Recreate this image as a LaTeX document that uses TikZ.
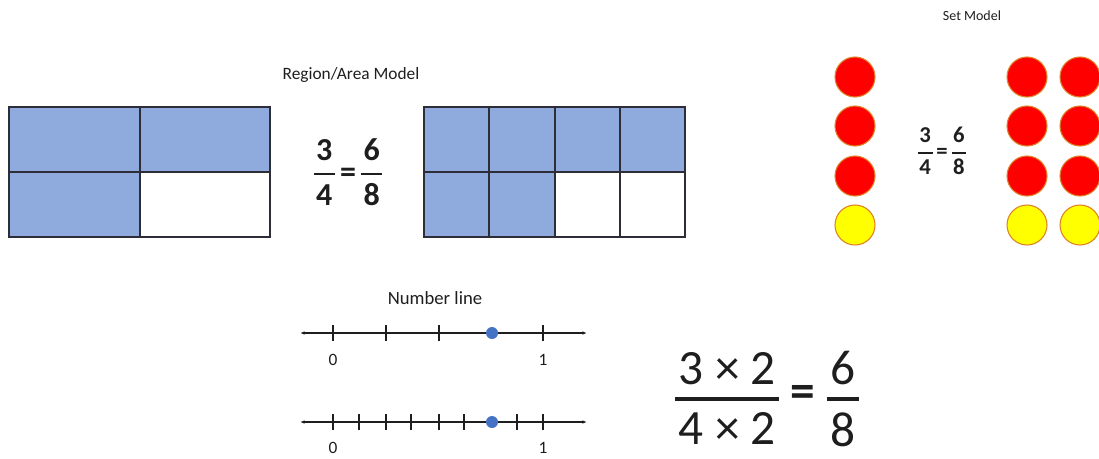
\documentclass[tikz,border=0pt]{standalone}
\usepackage{amsmath}
\usepackage{fontspec}
\setmainfont{Carlito}
\usetikzlibrary{arrows.meta,positioning}
\definecolor{cellblue}{RGB}{143,170,220}
\definecolor{cellline}{RGB}{45,45,55}
\definecolor{dotblue}{RGB}{68,114,196}
\definecolor{chipred}{RGB}{255,0,0}
\definecolor{chipyel}{RGB}{255,255,0}
\definecolor{rimc}{RGB}{222,130,40}
\definecolor{inkc}{RGB}{30,30,30}
\newcommand{\fr}[3][1.2pt]{\genfrac{}{}{#1}{0}{\text{\kern.07em#2\kern.07em}}{\text{\kern.07em#3\kern.07em}}}
\newcommand{\eqs}[1]{\text{\kern#1\bfseries=\kern#1}}
\tikzset{title/.style={font=\fontsize{13}{15}\selectfont,text=inkc},grid/.style={draw=cellline,line width=1pt},chip/.style={circle,draw=rimc,line width=0.8pt,minimum size=30pt,inner sep=0pt},numln/.style={{Latex[length=3.5pt]}-{Latex[length=3.5pt]},line width=0.9pt,draw=inkc},tick/.style={line width=0.9pt,draw=inkc},lab/.style={font=\fontsize{13}{15}\selectfont,text=inkc},ptmark/.style={circle,fill=dotblue,minimum size=9pt,inner sep=0pt}}

\begin{document}
\begin{tikzpicture}[x=0.75pt,y=-0.75pt]
\useasboundingbox (0,0) rectangle (1099,458);
% region / area model
\node[title] (area) at (351,75) {Region/Area Model};
\fill[cellblue] (9,107) rectangle (270,172);\fill[cellblue] (9,172) rectangle (140,237);
\draw[grid] (9,107) rectangle (270,237);\draw[grid] (140,107)--(140,237);\draw[grid] (9,172)--(270,172);
\node[font=\fontsize{24}{28}\selectfont\bfseries,text=inkc] (eqa) at (348,172) {$\fr[1.5pt]{3}{4}\eqs{.12em}\fr[1.5pt]{6}{8}$};
\fill[cellblue] (424,107) rectangle (685,172);\fill[cellblue] (424,172) rectangle (555,237);
\draw[grid] (424,107) rectangle (685,237);\draw[grid] (424,172)--(685,172);
\foreach \x in {489,555,620} \draw[grid] (\x,107)--(\x,237);
% set model
\node[font=\fontsize{10.5}{12}\selectfont,text=inkc] (set) at (972,16) {Set Model};
\foreach \y in {77,126,176} \node[chip,fill=chipred] at (855,\y) {};
\node[chip,fill=chipyel] at (855,225) {};
\foreach \x in {1027,1080}{
  \foreach \y in {77,126,176} \node[chip,fill=chipred] at (\x,\y) {};
  \node[chip,fill=chipyel] at (\x,225) {};}
\node[font=\fontsize{17}{20}\selectfont\bfseries,text=inkc] (eqs) at (942,151) {$\fr[1.1pt]{3}{4}\eqs{.1em}\fr[1.1pt]{6}{8}$};
% number lines
\node[title,font=\fontsize{14}{16}\selectfont] (nl) at (435,298) {Number line};
\coordinate (a1) at (300,333);\coordinate (b1) at (587,333);
\draw[numln] (a1)--(b1);
\foreach \x in {333,386,439,543} \draw[tick] (\x,325)--(\x,341);
\node[ptmark] (p1) at (492,333) {};
\node[lab] (z1) at (333,360) {0};\node[lab] (o1) at (543,360) {1};
\coordinate (a2) at (300,422);\coordinate (b2) at (587,422);
\draw[numln] (a2)--(b2);
\foreach \x in {333,359,386,411,439,464,517,543} \draw[tick] (\x,414)--(\x,430);
\node[ptmark] (p2) at (492,422) {};
\node[lab] (z2) at (333,448) {0};\node[lab] (o2) at (543,448) {1};
% multiplied fraction
\node[font=\fontsize{37}{42}\selectfont,text=inkc] (big) at (767,399) {$\fr[3pt]{3 × 2}{4 × 2}\eqs{.2em}\fr[3pt]{6}{8}$};
\end{tikzpicture}
\end{document}
